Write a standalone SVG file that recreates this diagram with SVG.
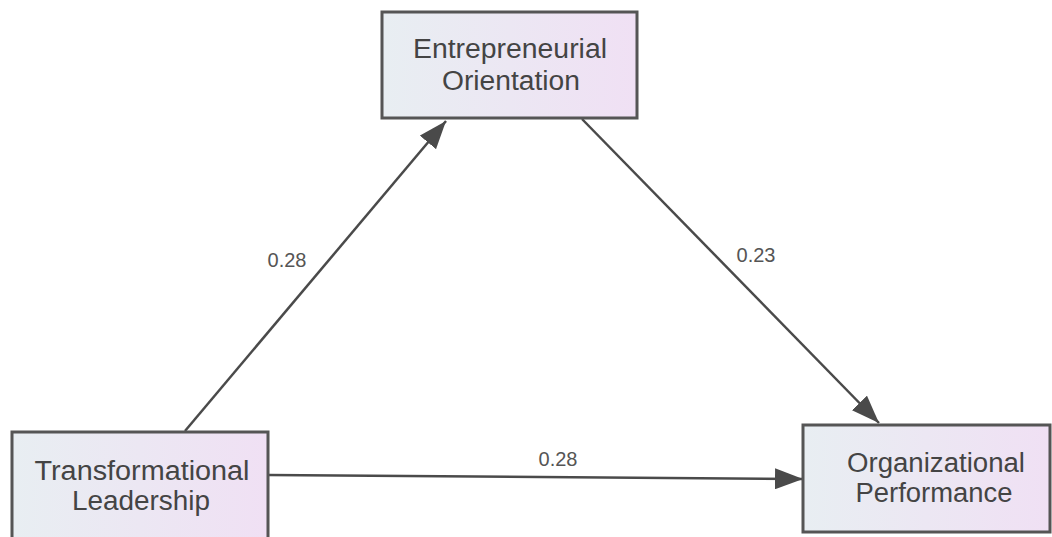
<svg xmlns="http://www.w3.org/2000/svg" width="1052" height="537" viewBox="0 0 1052 537">
<defs>
<linearGradient id="g" x1="0" y1="0" x2="1" y2="0">
<stop offset="0" stop-color="#e8eef2"/>
<stop offset="1" stop-color="#f0e0f4"/>
</linearGradient>
<marker id="a" viewBox="0 0 28 21" refX="28" refY="10.5" markerWidth="28" markerHeight="21" orient="auto" markerUnits="userSpaceOnUse">
<path d="M0,0 L28,10.5 L0,21 z" fill="#4a4a4a"/>
</marker>
<style>
.box{fill:url(#g);stroke:#555;stroke-width:3}
.t{font-family:"Liberation Sans",Arial,sans-serif;font-size:27px;fill:#444;text-anchor:middle}
.l{font-family:"Liberation Sans",Arial,sans-serif;font-size:20px;fill:#555;text-anchor:middle}
.e{stroke:#4a4a4a;stroke-width:2.5;fill:none}
</style>
</defs>
<g id="connectors">
<line class="e" x1="185" y1="431" x2="446" y2="121" marker-end="url(#a)"/>
<line class="e" x1="582" y1="119" x2="879" y2="423" marker-end="url(#a)"/>
<line class="e" x1="268" y1="475" x2="803" y2="479" marker-end="url(#a)"/>
<text class="l" x="287" y="267">0.28</text>
<text class="l" x="756" y="262">0.23</text>
<text class="l" x="558" y="466">0.28</text>
</g>
<g id="EO">
<rect class="box" x="382" y="12" width="255" height="106"/>
<text class="t" x="510" y="58" textLength="194" lengthAdjust="spacingAndGlyphs">Entrepreneurial</text>
<text class="t" x="511" y="90" textLength="138" lengthAdjust="spacingAndGlyphs">Orientation</text>
</g>
<g id="TL">
<rect class="box" x="12" y="432" width="256" height="110"/>
<text class="t" x="142" y="480" textLength="215" lengthAdjust="spacingAndGlyphs">Transformational</text>
<text class="t" x="141" y="510" textLength="138" lengthAdjust="spacingAndGlyphs">Leadership</text>
</g>
<g id="OP">
<rect class="box" x="803" y="425" width="247" height="107"/>
<text class="t" x="936" y="472" textLength="178" lengthAdjust="spacingAndGlyphs">Organizational</text>
<text class="t" x="934" y="502" textLength="157" lengthAdjust="spacingAndGlyphs">Performance</text>
</g>
</svg>
